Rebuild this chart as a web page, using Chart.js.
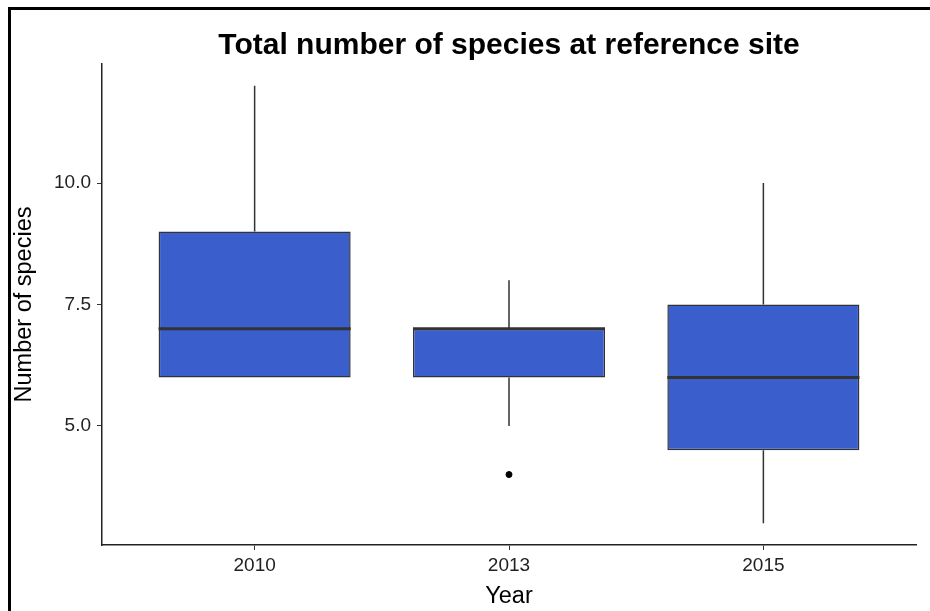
<!DOCTYPE html>
<html>
<head>
<meta charset="utf-8">
<script src="https://cdn.jsdelivr.net/npm/chart.js@4/dist/chart.umd.min.js"></script>
<style>
  html, body { margin: 0; padding: 0; background: #fff; }
  #wrap { position: relative; width: 930px; height: 611px; }
  #frame { position: absolute; left: 8px; top: 7px; right: 0; bottom: 0;
           border-left: 3px solid #000; border-top: 3px solid #000; pointer-events: none; }
</style>
</head>
<body>
<div id="wrap">
  <canvas id="boxChart"></canvas>
  <div id="frame"></div>
</div>
<script>
// Boxplot values
const years = ['2010', '2013', '2015'];
const whiskerLow = [6, 5, 3];
const q1 = [6, 6, 4.5];
const medians = [7, 7, 6];
const q3 = [9, 7, 7.5];
const whiskerHigh = [12, 8, 10];
const outliers = [[], [4], []];
const yTicks = [5, 7.5, 10];

const boxWidth = 0.755;
const fontFamily = '"Liberation Sans", Arial, sans-serif';

// build datasets from the arrays above
const boxData = years.map((y, i) => ({ x: i + 1, y: [q1[i], q3[i]] }));

const whiskerData = [];
years.forEach((y, i) => {
  whiskerData.push({ x: i + 1, y: q3[i] }, { x: i + 1, y: whiskerHigh[i] }, { x: i + 1, y: null });
  whiskerData.push({ x: i + 1, y: whiskerLow[i] }, { x: i + 1, y: q1[i] }, { x: i + 1, y: null });
});

const medianData = [];
years.forEach((y, i) => {
  medianData.push({ x: i + 1 - boxWidth / 2, y: medians[i] }, { x: i + 1 + boxWidth / 2, y: medians[i] }, { x: i + 1, y: null });
});

const outlierData = [];
outliers.forEach((list, i) => list.forEach(v => outlierData.push({ x: i + 1, y: v })));

const ctx = document.getElementById('boxChart').getContext('2d');
const boxChart = new Chart(ctx, {
  type: 'bar',
  data: {
    datasets: [
      {
        type: 'line',
        data: medianData,
        borderColor: '#333333',
        borderWidth: 3,
        pointRadius: 0,
        spanGaps: false,
        order: 0
      },
      {
        type: 'scatter',
        data: outlierData,
        backgroundColor: '#000',
        borderColor: '#000',
        pointRadius: 3,
        order: 1
      },
      {
        type: 'bar',
        data: boxData,
        backgroundColor: '#3A5FCD',
        borderColor: '#333333',
        borderWidth: 1.5,
        borderSkipped: false,
        categoryPercentage: 1,
        barPercentage: boxWidth,
        order: 2
      },
      {
        type: 'line',
        data: whiskerData,
        borderColor: '#333333',
        borderWidth: 1.5,
        pointRadius: 0,
        spanGaps: false,
        order: 3
      }
    ]
  },
  options: {
    responsive: true,
    maintainAspectRatio: false,
    animation: false,
    layout: { padding: { left: 10, right: 14, top: 0, bottom: 0 } },
    plugins: {
      legend: { display: false },
      tooltip: { enabled: false },
      title: {
        display: true,
        text: 'Total number of species at reference site',
        fullSize: false,
        color: '#000',
        font: { family: fontFamily, size: 30, weight: 'bold' },
        padding: { top: 28, bottom: 0 }
      }
    },
    scales: {
      x: {
        type: 'linear',
        min: 0.4,
        max: 3.6,
        offset: false,
        afterBuildTicks: s => { s.ticks = years.map((y, i) => ({ value: i + 1 })); },
        afterFit: s => { s.height = 66; },
        ticks: {
          callback: v => years[v - 1],
          color: '#222',
          font: { family: fontFamily, size: 19 },
          padding: 4,
          autoSkip: false,
          maxRotation: 0
        },
        grid: { drawOnChartArea: false, drawTicks: true, tickLength: 5, color: '#333', offset: false },
        border: { display: true, color: '#222', width: 1.5 },
        title: {
          display: true,
          text: 'Year',
          color: '#000',
          font: { family: fontFamily, size: 23.5 },
          padding: { top: 0, bottom: 0 }
        }
      },
      y: {
        min: 2.55,
        max: 12.45,
        afterBuildTicks: s => { s.ticks = yTicks.map(v => ({ value: v })); },
        afterFit: s => { s.width = 92; },
        ticks: {
          callback: v => v.toFixed(1),
          color: '#222',
          font: { family: fontFamily, size: 19 },
          padding: 6
        },
        grid: { drawOnChartArea: false, drawTicks: true, tickLength: 5, color: '#333' },
        border: { display: true, color: '#222', width: 1.5 },
        title: {
          display: true,
          text: 'Number of species',
          color: '#000',
          font: { family: fontFamily, size: 23.5 },
          padding: { top: 0, bottom: 0 }
        }
      }
    }
  }
});
</script>
</body>
</html>
